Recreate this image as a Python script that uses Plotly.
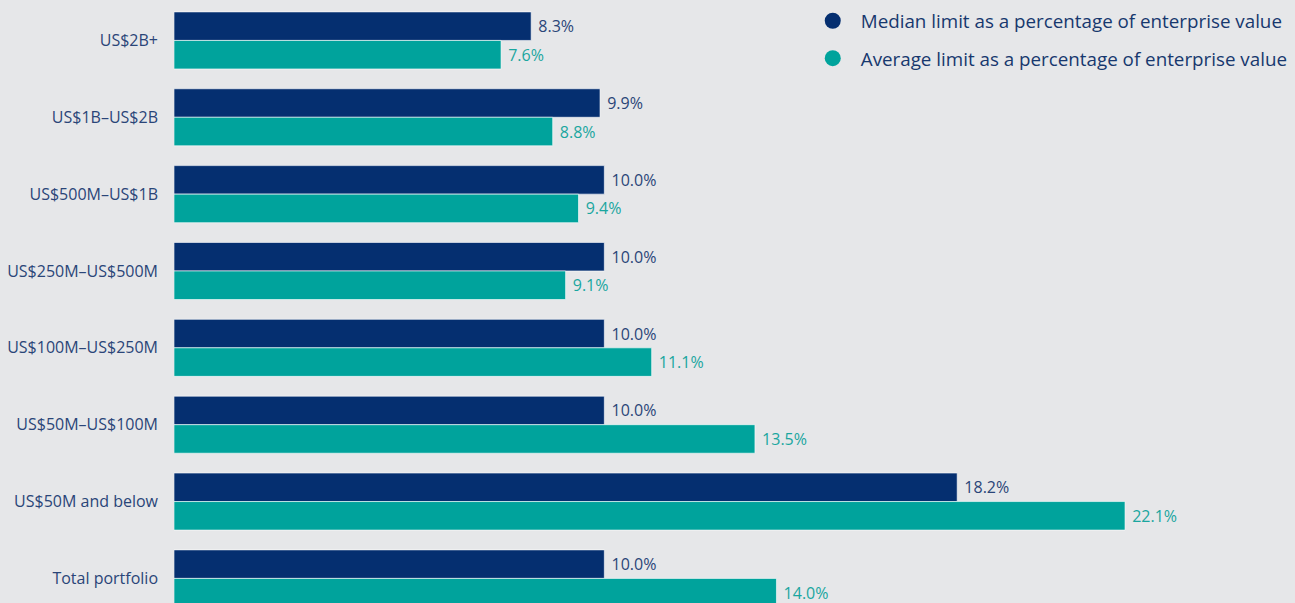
import plotly.graph_objects as go

categories = ["US$2B+", "US$1B–US$2B", "US$500M–US$1B", "US$250M–US$500M",
              "US$100M–US$250M", "US$50M–US$100M", "US$50M and below", "Total portfolio"]
median_vals = [8.3, 9.9, 10.0, 10.0, 10.0, 10.0, 18.2, 10.0]
average_vals = [7.6, 8.8, 9.4, 9.1, 11.1, 13.5, 22.1, 14.0]

NAVY = "#052f70"
TEAL = "#00a39c"
BG = "#e6e7e9"
FONT = "Open Sans, Noto Sans, sans-serif"

fig = go.Figure()

fig.add_trace(go.Bar(
    y=categories, x=median_vals, orientation="h",
    marker=dict(color=NAVY, line=dict(color="white", width=0.6)),
    text=[f" {v:.1f}%" for v in median_vals], textposition="outside",
    textfont=dict(color="#2a4578", size=16, family=FONT),
    cliponaxis=False, showlegend=False,
))
fig.add_trace(go.Bar(
    y=categories, x=average_vals, orientation="h",
    marker=dict(color=TEAL, line=dict(color="white", width=0.6)),
    text=[f" {v:.1f}%" for v in average_vals], textposition="outside",
    textfont=dict(color="#1aa69f", size=16, family=FONT),
    cliponaxis=False, showlegend=False,
))

# legend entries with round markers
fig.add_trace(go.Scatter(x=[None], y=[None], mode="markers", legendgroup="m",
                         marker=dict(color=NAVY, size=16, symbol="circle"),
                         name="Median limit as a percentage of enterprise value"))
fig.add_trace(go.Scatter(x=[None], y=[None], mode="markers", legendgroup="a",
                         marker=dict(color=TEAL, size=16, symbol="circle"),
                         name="Average limit as a percentage of enterprise value"))

fig.update_layout(
    width=1295, height=603,
    barmode="group", bargap=0.258, bargroupgap=0,
    margin=dict(l=174, r=0, t=2, b=0),
    paper_bgcolor=BG, plot_bgcolor=BG,
    font=dict(family=FONT, color="#2a4578"),
    legend=dict(x=0.998, xanchor="right", y=1.0, yanchor="top",
                font=dict(size=18.8, color="#17386e", family=FONT),
                bgcolor="rgba(0,0,0,0)", itemsizing="trace", itemwidth=46,
                traceorder="grouped", tracegroupgap=10),
)
fig.update_xaxes(range=[0, 26.05], visible=False, showgrid=False)
fig.update_yaxes(range=[7.32, -0.5], showgrid=False, showline=False, ticks="",
                 ticklabelstandoff=15,
                 tickfont=dict(size=16, color="#2a4578", family=FONT))

fig.write_html("out.html", config={"displayModeBar": False},
               post_script="document.body.style.margin='0';")
